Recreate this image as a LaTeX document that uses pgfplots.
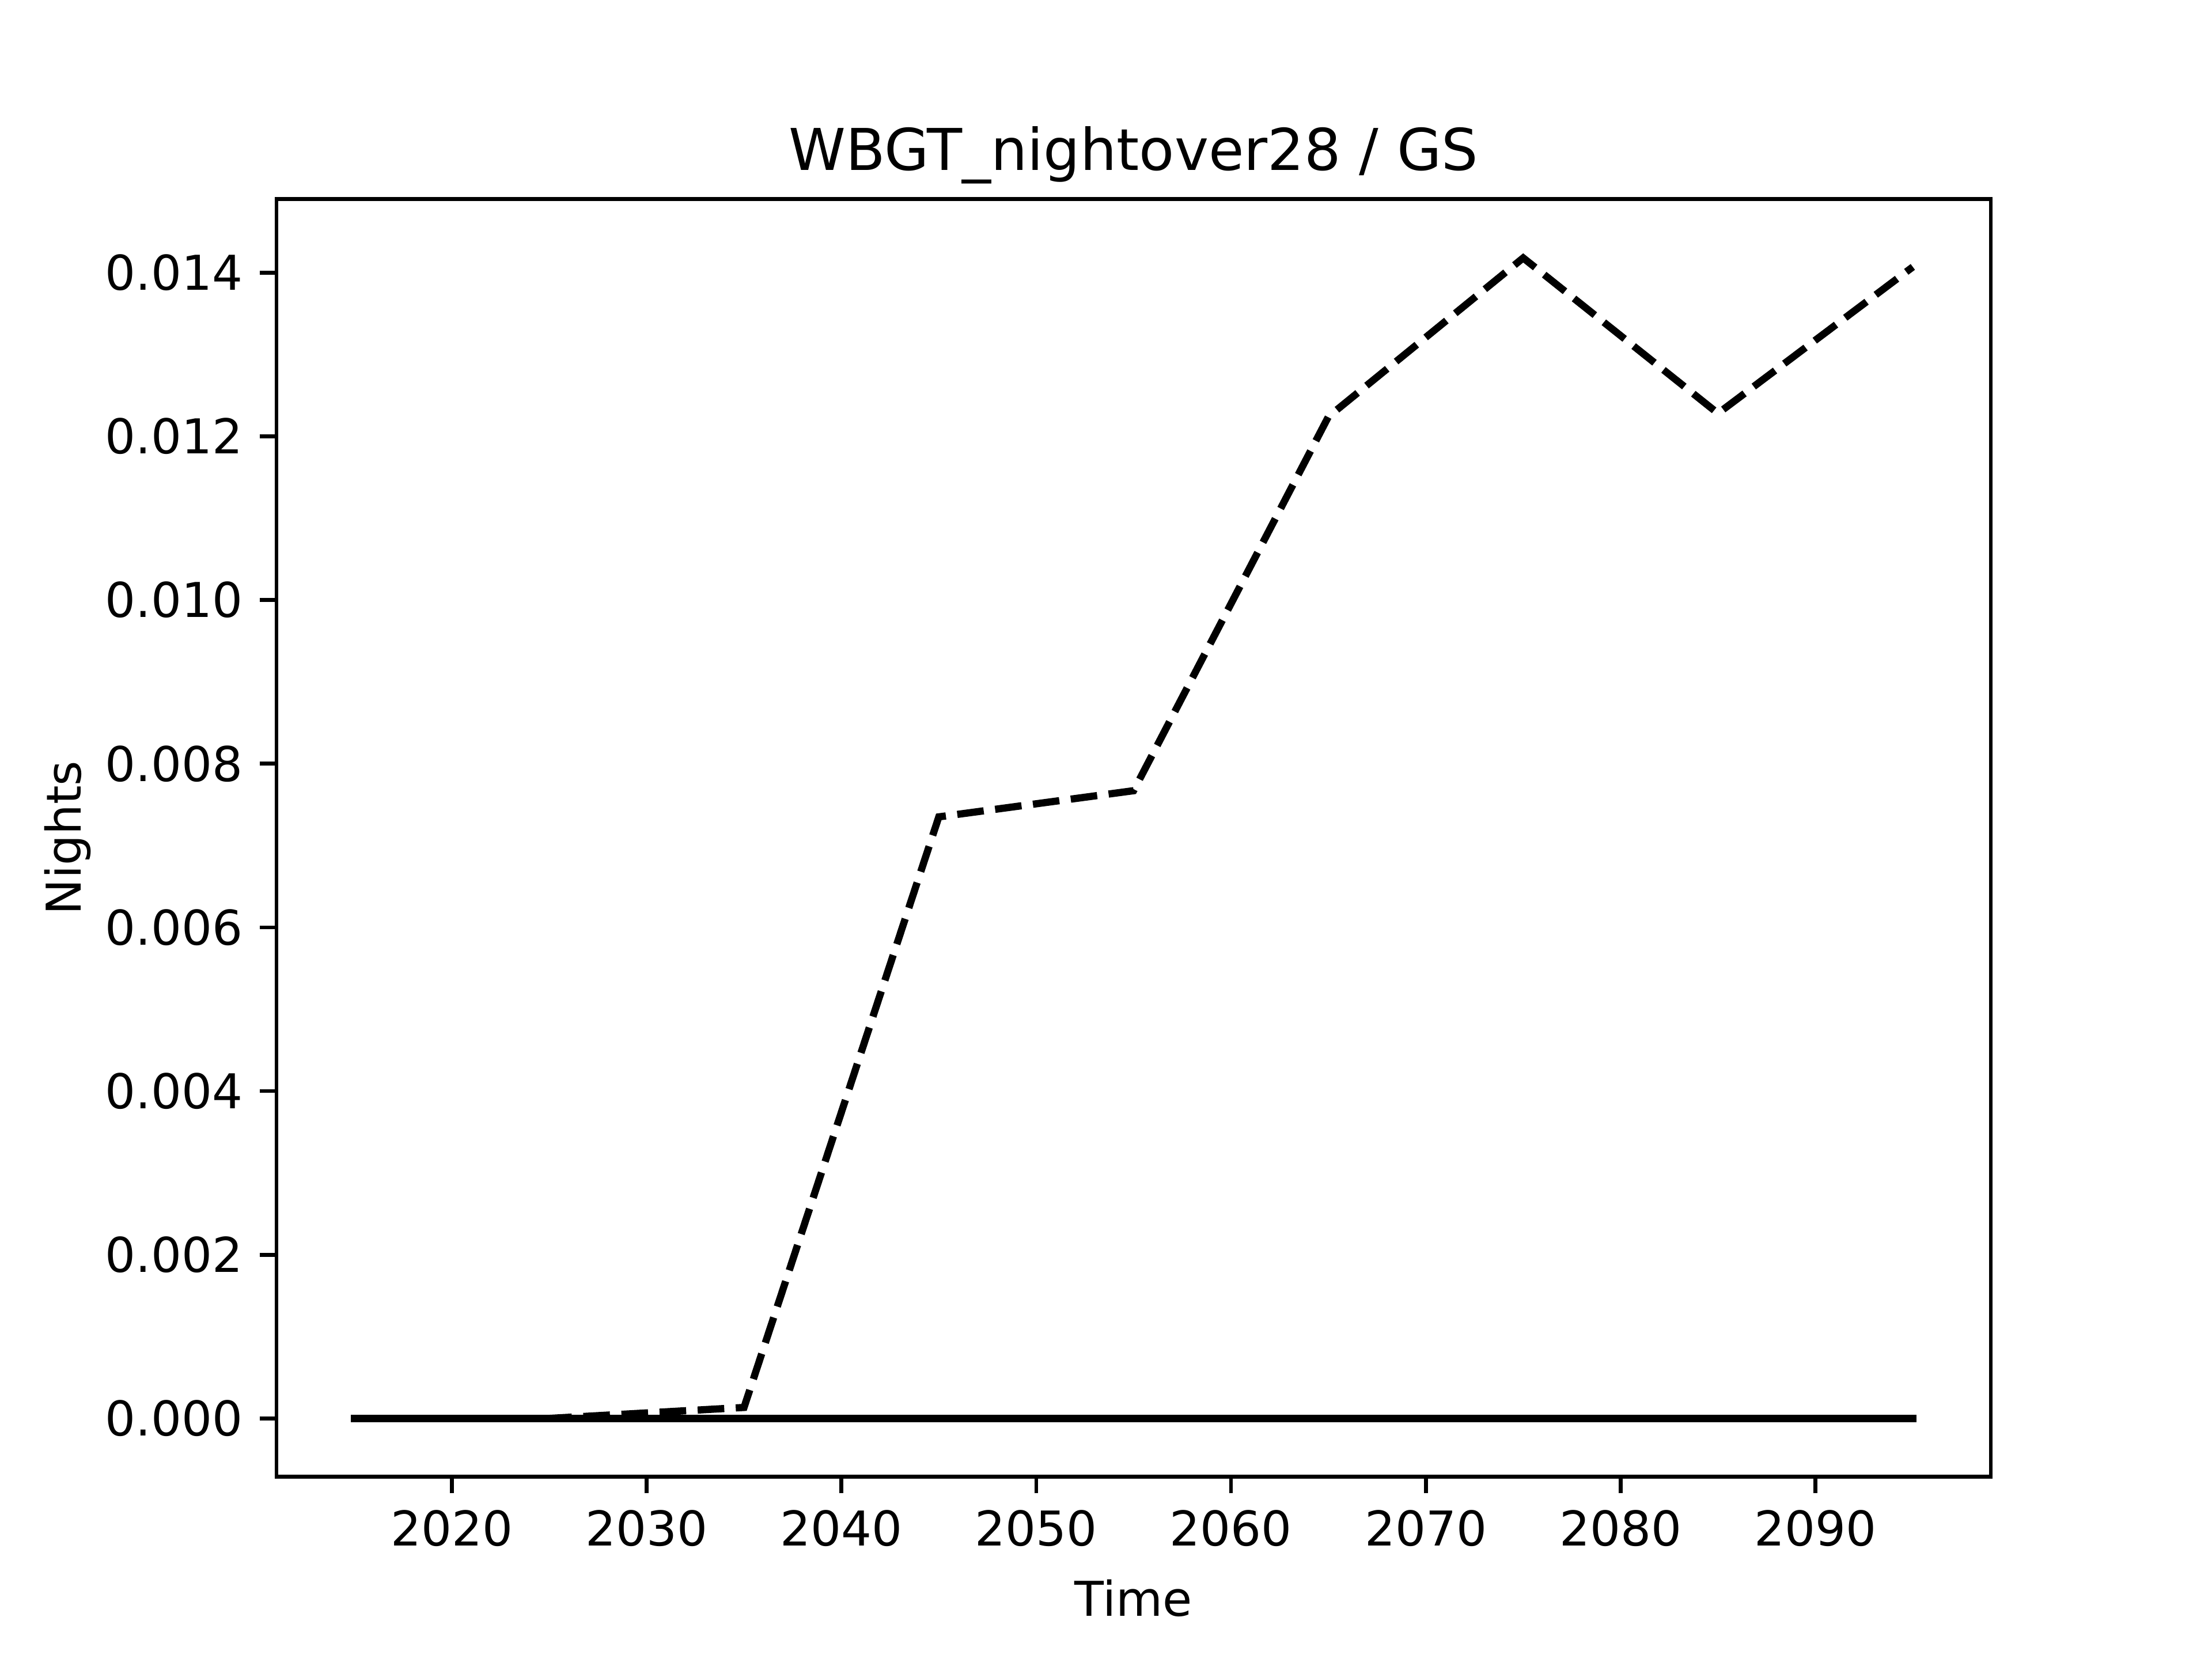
\documentclass[border=0pt]{standalone}
\usepackage{pgfplots}
\pgfplotsset{compat=1.18}
\usepackage{fontspec}
\setmainfont{DejaVu Sans}
\begin{document}
\fontsize{10pt}{12pt}\selectfont
\begin{tikzpicture}
\useasboundingbox (-57.6pt,-38.016pt) rectangle (403.2pt,307.584pt);
\begin{axis}[
  at={(0,0)}, anchor=south west,
  scale only axis,
  width=357.12pt, height=266.11pt,
  xmin=2011, xmax=2099,
  ymin=-0.00071, ymax=0.014899,
  xtick={2020,2030,2040,2050,2060,2070,2080,2090},
  ytick={0,0.002,0.004,0.006,0.008,0.010,0.012,0.014},
  /pgf/number format/assume math mode=true,
  xticklabel style={/pgf/number format/1000 sep={}},
  yticklabel style={/pgf/number format/.cd, fixed, fixed zerofill, precision=3},
  scaled y ticks=false,
  tick align=outside,
  xtick pos=left, ytick pos=left,
  major tick length=3.5pt,
  every tick/.style={black, line width=0.8pt},
  axis line style={line width=0.8pt},
  tick label style={font=\fontsize{10pt}{12pt}\selectfont},
  title={WBGT\_nightover28 / GS},
  every axis title/.style={at={(axis description cs:0.5,1)}, anchor=base, yshift=6pt, font=\fontsize{12pt}{14pt}\selectfont},
  xlabel={Time}, ylabel={Nights},
  label style={font=\fontsize{10pt}{12pt}\selectfont},
  every axis y label/.style={at={(axis description cs:-0.1218,0.5)}, rotate=90, anchor=center, font=\fontsize{10pt}{12pt}\selectfont},
]
\addplot[black, line width=1.5pt, dash pattern=on 5.55pt off 2.4pt] coordinates {
 (2015,0) (2025,0) (2035,0.000134) (2045,0.00735) (2055,0.00767)
 (2065,0.01224) (2075,0.01418) (2085,0.01228) (2095,0.01407)
};
\addplot[black, line width=1.5pt, line cap=rect] coordinates {
 (2015,0) (2025,0) (2035,0) (2045,0) (2055,0)
 (2065,0) (2075,0) (2085,0) (2095,0)
};
\end{axis}
\end{tikzpicture}
\end{document}
